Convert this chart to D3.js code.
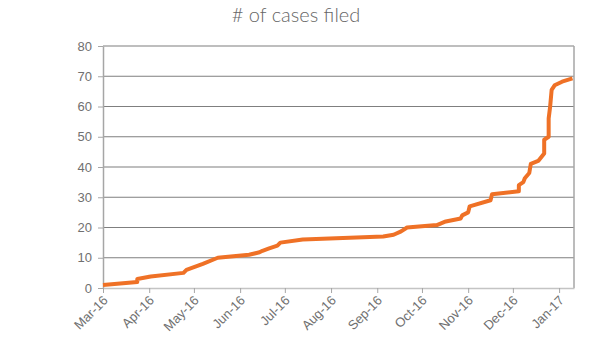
<!DOCTYPE html>
<html>
<head>
<meta charset="utf-8">
<script src="https://cdn.jsdelivr.net/npm/d3@7"></script>
<style>
  body { margin: 0; background: #fff; }
  svg { display: block; font-family: Lato, "Open Sans", sans-serif; }
</style>
</head>
<body>
<div id="chart"></div>
<script>
// cumulative number of cases filed
const dates = [
  "2016-03-01", "2016-03-24", "2016-03-24", "2016-04-02", "2016-04-24", "2016-04-26",
  "2016-05-07", "2016-05-17", "2016-06-07", "2016-06-14", "2016-06-16", "2016-06-20",
  "2016-06-26", "2016-06-28", "2016-07-13", "2016-09-05", "2016-09-12", "2016-09-17",
  "2016-09-21", "2016-10-11", "2016-10-17", "2016-10-27", "2016-10-28", "2016-11-01",
  "2016-11-02", "2016-11-16", "2016-11-17", "2016-12-05", "2016-12-05", "2016-12-08",
  "2016-12-09", "2016-12-12", "2016-12-13", "2016-12-18", "2016-12-22", "2016-12-22",
  "2016-12-25", "2016-12-25", "2016-12-26", "2016-12-27", "2016-12-29", "2017-01-03",
  "2017-01-10"
];
const cases = [
  1, 2, 3, 3.8, 5, 6,
  8, 10, 11, 11.8, 12.3, 13,
  14, 15, 16, 17, 17.6, 18.7,
  20, 20.8, 22, 23, 24, 25,
  27, 29, 31, 32, 34, 35,
  36.3, 38, 41, 42, 44.5, 49,
  50, 56, 60, 65.5, 67, 68.2,
  69.3
];
const yTicks = [0, 10, 20, 30, 40, 50, 60, 70, 80];
const xStart = "2016-03-01";
const xEnd = "2017-01-11";
const title = "# of cases filed";

const width = 600, height = 362;
const margin = { top: 46, right: 26, bottom: 74, left: 103 };
const parse = d3.timeParse("%Y-%m-%d");

const data = dates.map((d, i) => ({ date: parse(d), value: cases[i] }));

const svg = d3.select("#chart").append("svg")
  .attr("width", width)
  .attr("height", height);

const x = d3.scaleTime()
  .domain([parse(xStart), parse(xEnd)])
  .range([margin.left, width - margin.right]);

const y = d3.scaleLinear()
  .domain([0, 80])
  .range([height - margin.bottom, margin.top]);

// title
svg.append("text")
  .attr("x", 296)
  .attr("y", 22)
  .attr("text-anchor", "middle")
  .attr("fill", "#666")
  .style("font-size", "20px")
  .style("font-weight", 300)
  .text(title);

// gridlines
svg.append("g")
  .selectAll("line")
  .data(yTicks.filter(d => d > 0))
  .enter()
  .append("line")
  .attr("x1", x.range()[0])
  .attr("x2", x.range()[1])
  .attr("y1", d => y(d))
  .attr("y2", d => y(d))
  .attr("stroke", "#7f7f7f")
  .attr("stroke-width", 1.2);

// right border
svg.append("line")
  .attr("x1", x.range()[1]).attr("x2", x.range()[1])
  .attr("y1", y(80)).attr("y2", y(0))
  .attr("stroke", "#a6a6a6")
  .attr("stroke-width", 1.5);

// y axis
const yAxis = svg.append("g")
  .attr("transform", "translate(" + margin.left + ",0)")
  .call(d3.axisLeft(y).tickValues(yTicks).tickSize(5).tickPadding(6).tickSizeOuter(0));
yAxis.select(".domain").attr("stroke", "#a6a6a6").attr("stroke-width", 1.5);
yAxis.selectAll(".tick line").attr("stroke", "#a6a6a6");
yAxis.selectAll("text")
  .attr("fill", "#707070")
  .style("font-size", "13px");

// x axis
const xAxis = svg.append("g")
  .attr("transform", "translate(0," + y(0) + ")")
  .call(d3.axisBottom(x)
    .ticks(d3.timeMonth.every(1))
    .tickFormat(d3.timeFormat("%b-%y"))
    .tickSize(5)
    .tickSizeOuter(0));
xAxis.select(".domain").attr("stroke", "#c4c4c4").attr("stroke-width", 1.5);
xAxis.selectAll(".tick line").attr("stroke", "#a6a6a6");
xAxis.selectAll("text")
  .attr("fill", "#707070")
  .style("font-size", "13px")
  .attr("text-anchor", "end")
  .attr("dy", "0.35em")
  .attr("transform", "translate(2,10) rotate(-45)")
  .attr("y", 0)
  .attr("x", 0);

// the line
svg.append("path")
  .datum(data)
  .attr("fill", "none")
  .attr("stroke", "#ef7126")
  .attr("stroke-width", 4)
  .attr("stroke-linejoin", "round")
  .attr("d", d3.line()
    .x(d => x(d.date))
    .y(d => y(d.value)));
</script>
</body>
</html>
